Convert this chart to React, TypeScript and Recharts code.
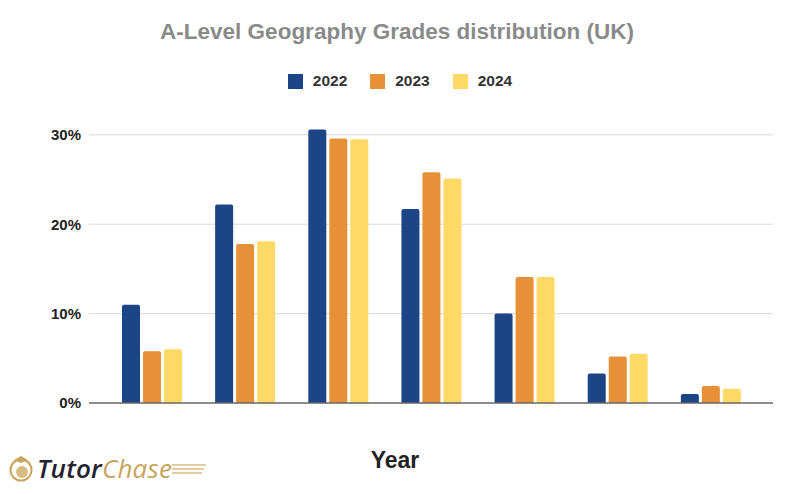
import { BarChart, Bar, XAxis, YAxis, CartesianGrid, ReferenceLine } from "recharts";

// Grade shares per year (percent)
const GRADES = ["A*", "A", "B", "C", "D", "E", "U"];
const Y2022 = [11.0, 22.2, 30.6, 21.7, 10.0, 3.3, 1.0];
const Y2023 = [5.8, 17.8, 29.6, 25.8, 14.1, 5.2, 1.9];
const Y2024 = [6.0, 18.1, 29.5, 25.1, 14.1, 5.5, 1.6];
const Y_TICKS = [0, 10, 20, 30];

const SERIES = [
  { key: "y2022", name: "2022", color: "#1c4587" },
  { key: "y2023", name: "2023", color: "#e69138" },
  { key: "y2024", name: "2024", color: "#ffd966" },
];

const data = GRADES.map((grade, i) => ({
  grade,
  y2022: Y2022[i],
  y2023: Y2023[i],
  y2024: Y2024[i],
}));

const FONT = "'Liberation Sans', Arial, sans-serif";

function Legend() {
  return (
    <div
      style={{
        position: "absolute",
        top: 72,
        left: 0,
        width: 800,
        display: "flex",
        justifyContent: "center",
        gap: 23,
        fontFamily: FONT,
        fontWeight: 700,
        fontSize: 15.5,
        color: "#333",
      }}
    >
      {SERIES.map((s) => (
        <div key={s.key} style={{ display: "flex", alignItems: "center", gap: 10 }}>
          <span style={{ width: 15, height: 15, background: s.color, display: "inline-block" }} />
          <span>{s.name}</span>
        </div>
      ))}
    </div>
  );
}

function Logo() {
  return (
    <div style={{ position: "absolute", left: 7, top: 450, display: "flex", alignItems: "center" }}>
      <svg width={30} height={32}>
        <circle cx={14} cy={18} r={10.5} fill="none" stroke="#c9a45c" strokeWidth={2} />
        <circle cx={15} cy={20} r={6} fill="#d8bd82" />
        <path d="M7 8 L14 4 L21 8 L14 11 Z" fill="#c9a45c" />
      </svg>
      <span style={{ fontFamily: "'Open Sans', sans-serif", fontStyle: "italic", fontSize: 26, letterSpacing: 0.2 }}>
        <span style={{ color: "#1f2233", fontWeight: 600 }}>Tutor</span>
        <span style={{ color: "#c9a45c", fontWeight: 400 }}>Chase</span>
      </span>
      <svg width={36} height={22} style={{ marginLeft: 0 }}>
        {[8, 12, 16].map((y, i) => (
          <line key={y} x1={0} y1={y} x2={34 - i * 2} y2={y} stroke="#d8bd82" strokeWidth={1.5} />
        ))}
      </svg>
    </div>
  );
}

export default function App() {
  return (
    <div style={{ position: "absolute", top: 0, left: 0, width: 800, height: 494, background: "#fff" }}>
      <div
        style={{
          position: "absolute",
          top: 19,
          width: 794,
          textAlign: "center",
          fontFamily: FONT,
          fontWeight: 700,
          fontSize: 22.5,
          color: "#8a8a8a",
        }}
      >
        A-Level Geography Grades distribution (UK)
      </div>
      <Legend />
      <BarChart
        width={800}
        height={494}
        data={data}
        margin={{ top: 108, right: 27, bottom: 91, left: 0 }}
        barCategoryGap={17}
        barGap={3}
      >
        <CartesianGrid vertical={false} stroke="#d9d9d9" horizontalValues={[10, 20, 30]} />
        <XAxis
          dataKey="grade"
          tick={false}
          tickLine={false}
          axisLine={false}
          padding={{ left: 16, right: 16 }}
          height={0}
        />
        <YAxis
          width={89}
          domain={[0, 33]}
          ticks={Y_TICKS}
          tickFormatter={(v: number) => `${v}%`}
          tickLine={false}
          axisLine={false}
          tick={{ fill: "#222", fontSize: 15, fontWeight: 700, fontFamily: FONT }}
        />
        {SERIES.map((s) => (
          <Bar
            key={s.key}
            dataKey={s.key}
            name={s.name}
            fill={s.color}
            radius={[2, 2, 0, 0]}
            isAnimationActive={false}
          />
        ))}
        <ReferenceLine y={0} stroke="#666" strokeWidth={1.5} />
      </BarChart>
      <div
        style={{
          position: "absolute",
          top: 447,
          width: 790,
          textAlign: "center",
          fontFamily: FONT,
          fontWeight: 700,
          fontSize: 23,
          color: "#222",
        }}
      >
        Year
      </div>
      <Logo />
    </div>
  );
}
